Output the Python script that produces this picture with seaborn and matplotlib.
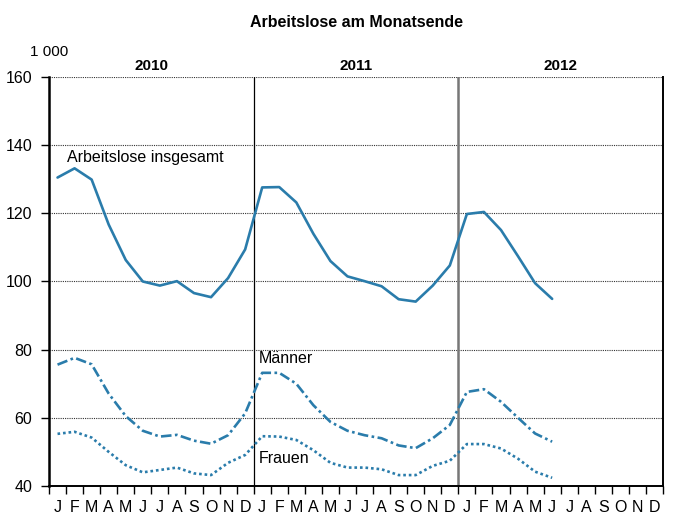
import numpy as np
import pandas as pd
import matplotlib
matplotlib.use("Agg")
import matplotlib.pyplot as plt
import seaborn as sns

# Monatsbuchstaben (3 Jahre)
month_letters = ["J", "F", "M", "A", "M", "J", "J", "A", "S", "O", "N", "D"] * 3
years = ["2010", "2011", "2012"]

# Werte in 1 000, Jan 2010 bis Jun 2012
insgesamt = [130.5, 133.2, 129.9, 116.7, 106.3, 100.0, 98.8, 100.1, 96.6, 95.4, 101.0, 109.4,
             127.6, 127.7, 123.2, 114.0, 106.0, 101.5, 100.1, 98.6, 94.8, 94.1, 98.8, 104.7,
             119.8, 120.4, 115.1, 107.4, 99.5, 94.9]
maenner = [75.6, 77.6, 75.7, 67.1, 60.5, 56.2, 54.5, 55.0, 53.3, 52.4, 54.9, 61.3,
           73.2, 73.2, 70.0, 63.7, 58.8, 56.2, 54.9, 54.0, 51.9, 51.1, 54.0, 57.9,
           67.6, 68.4, 64.7, 60.0, 55.4, 53.0]
frauen = [55.3, 55.9, 54.2, 50.0, 46.1, 44.0, 44.7, 45.4, 43.7, 43.2, 46.8, 49.1,
          54.6, 54.5, 53.5, 50.5, 46.8, 45.4, 45.4, 44.9, 43.2, 43.2, 45.9, 47.4,
          52.3, 52.3, 51.0, 48.0, 44.2, 42.4]

n = len(insgesamt)
df = pd.DataFrame({
    "monat": np.tile(np.arange(n) + 0.5, 3),
    "wert": insgesamt + maenner + frauen,
    "reihe": ["insgesamt"] * n + ["Männer"] * n + ["Frauen"] * n,
})

sns.set_style("white")
plt.rcParams["font.family"] = ["Liberation Sans", "DejaVu Sans"]
for k in ["text.color", "axes.labelcolor", "xtick.color", "ytick.color"]:
    plt.rcParams[k] = "black"

blau = "#2a7cab"
fig = plt.figure(figsize=(6.74, 5.14), dpi=100)
ax = fig.add_axes([0.0727, 0.0545, 0.911, 0.7957])

sns.lineplot(data=df, x="monat", y="wert", style="reihe", ax=ax,
             color=blau, linewidth=1.9, legend=False,
             dashes={"insgesamt": "", "Männer": (4, 1.3, 1, 1.3), "Frauen": (1, 1.1)})

ax.set_xlim(0, 36)
ax.set_ylim(40, 160)
ax.set_xlabel("")
ax.set_ylabel("")

# Gitter
for v in [60, 80, 100, 120, 140, 160]:
    ax.axhline(v, color="#333333", linestyle=(0, (1, 1)), linewidth=0.8, zorder=0)
ax.axvline(12, color="black", linewidth=0.9, zorder=1)
ax.axvline(24, color="#777777", linewidth=1.8, zorder=1)

# Achsen
ax.spines["top"].set_visible(False)
ax.spines["left"].set_linewidth(1.8)
ax.spines["bottom"].set_linewidth(1.4)
ax.spines["right"].set_linewidth(1.4)
for s in ["left", "bottom", "right"]:
    ax.spines[s].set_color("black")

ax.set_yticks([40, 60, 80, 100, 120, 140, 160])
ax.tick_params(axis="y", direction="out", length=6, width=1, color="black",
               labelsize=11.5, pad=6, left=True)
ax.set_xticks(np.arange(0, 37))
ax.set_xticklabels([])
ax.tick_params(axis="x", which="major", direction="out", length=6, width=1,
               color="black", bottom=True)
ax.set_xticks(np.arange(36) + 0.5, minor=True)
ax.set_xticklabels(month_letters, minor=True)
ax.tick_params(axis="x", which="minor", length=0, labelsize=11.5, pad=10)

# Beschriftungen
ax.set_title("Arbeitslose am Monatsende", fontsize=11.5, fontweight="bold", pad=36)
ax.text(-0.031, 1.061, "1 000", transform=ax.transAxes, fontsize=11, va="center", ha="left")
for i, y in enumerate(years):
    ax.text(6 + 12 * i, 1.027, y, transform=ax.get_xaxis_transform(),
            fontsize=11, fontweight="bold", ha="center", va="center")

ax.text(1.05, 136.5, "Arbeitslose insgesamt", fontsize=11.5, va="center", ha="left")
ax.text(12.3, 77.5, "Männer", fontsize=11.5, va="center", ha="left")
ax.text(12.3, 48.0, "Frauen", fontsize=11.5, va="center", ha="left")

fig.savefig("out.png", dpi=100)
